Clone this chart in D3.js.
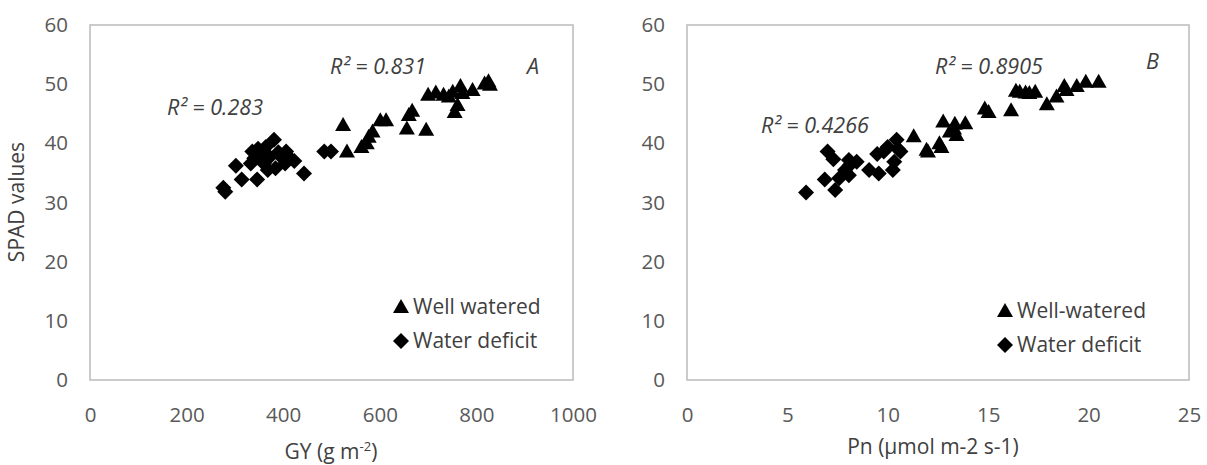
<!DOCTYPE html>
<html>
<head>
<meta charset="utf-8">
<script src="https://cdn.jsdelivr.net/npm/d3@7"></script>
<style>
  body { margin: 0; background: #fff; }
  text { font-family: "Open Sans", "Noto Sans", sans-serif; }
</style>
</head>
<body>
<svg id="svg" width="1207" height="465"></svg>
<script>
// panel A: GY (g m-2) vs SPAD
var wellA = [[524,43.1],[532,38.6],[562,39.4],[573,40.0],[577,41.1],[585,42.0],[601,43.9],[613,43.9],
             [656,42.5],[660,44.8],[667,45.5],[696,42.3],[700,48.2],[716,48.6],[732,48.2],[743,47.9],
             [751,48.7],[755,45.3],[761,46.5],[767,49.7],[771,48.5],[792,49.0],[817,50.1],[825,50.5],[828,49.9]];
var deficitA = [[276,32.5],[280,31.8],[302,36.2],[314,33.9],[333,36.6],[336,38.6],[340,37.5],[346,33.9],
                [348,39.1],[355,38.0],[360,36.6],[364,39.4],[368,35.5],[372,37.7],[381,40.6],[384,35.8],
                [390,38.5],[396,37.7],[404,36.6],[406,38.6],[410,37.8],[423,37.0],[443,34.9],[485,38.6],[499,38.6]];

// panel B: Pn vs SPAD
var wellB = [[11.29,41.2],[11.93,38.9],[12.0,38.6],[12.57,40.0],[12.67,39.4],[12.76,43.7],[13.09,42.0],
             [13.3,42.5],[13.34,43.3],[13.42,41.4],[13.86,43.4],[14.83,45.9],[15.02,45.3],[16.14,45.6],
             [16.38,48.9],[16.57,48.7],[16.86,48.6],[17.05,48.5],[17.34,48.7],[17.92,46.6],[18.4,47.9],
             [18.79,49.7],[18.9,49.0],[19.41,49.7],[19.86,50.4],[20.5,50.4]];
var deficitB = [[5.93,31.7],[6.86,33.9],[7.0,38.6],[7.29,37.3],[7.38,32.1],[7.58,34.1],[7.87,35.5],
                [8.06,34.6],[8.06,37.2],[8.1,36.3],[8.45,36.9],[9.07,35.5],[9.47,38.2],[9.55,34.9],
                [9.8,38.6],[9.99,39.4],[10.25,35.5],[10.32,36.9],[10.44,40.6],[10.5,39.1],[10.63,38.6]];

var yTicks  = [0,10,20,30,40,50,60],
    xTicksA = [0,200,400,600,800,1000],
    xTicksB = [0,5,10,15,20,25];

var svg = d3.select("#svg");
var ink = "#404040", tickInk = "#595959", frame = "#bfbfbf";

var tri = "M0,-8L8,6L-8,6Z",
    dia = "M0,-8L8,0L0,8L-8,0Z";

var panels = [
  {x0:90, x1:573, dom:[0,1000], ticks:xTicksA, well:wellA, def:deficitA, letter:"A", lx:527, ly:67,
   r1:{x:167,y:108,t:"0.283"}, r2:{x:330,y:67,t:"0.831"}, legX:401, legY:307, wellName:"Well watered"},
  {x0:687, x1:1189, dom:[0,25], ticks:xTicksB, well:wellB, def:deficitB, letter:"B", lx:1146, ly:62,
   r1:{x:761,y:126,t:"0.4266"}, r2:{x:935,y:67,t:"0.8905"}, legX:1005, legY:311, wellName:"Well-watered"}
];

panels.forEach(function(p) {
  var x = d3.scaleLinear().domain(p.dom).range([p.x0, p.x1]),
      y = d3.scaleLinear().domain([0,60]).range([380, 25]);
  var g = svg.append("g");

  g.append("rect")
    .attr("x", p.x0).attr("y", 25).attr("width", p.x1-p.x0).attr("height", 355)
    .style("fill", "none").style("stroke", frame).style("stroke-width", "1.6px");

  var ya = g.append("g").attr("transform", "translate("+p.x0+",0)")
    .call(d3.axisLeft(y).tickValues(yTicks).tickSize(0).tickPadding(22));
  var xa = g.append("g").attr("transform", "translate(0,380)")
    .call(d3.axisBottom(x).tickValues(p.ticks).tickSize(0).tickPadding(27).tickFormat(d3.format("d")));
  [ya, xa].forEach(function(a) {
    a.select(".domain").remove();
    a.selectAll("text").attr("font-size", 20.5).attr("fill", tickInk)
      .attr("font-family", "'Open Sans', sans-serif");
  });

  g.selectAll(".w").data(p.well).enter().append("path")
    .attr("d", tri).attr("fill", "#000")
    .attr("transform", function(d){ return "translate("+x(d[0])+","+y(d[1])+")"; });
  g.selectAll(".d").data(p.def).enter().append("path")
    .attr("d", dia).attr("fill", "#000")
    .attr("transform", function(d){ return "translate("+x(d[0])+","+y(d[1])+")"; });

  [p.r1, p.r2].forEach(function(r) {
    g.append("text").attr("x", r.x).attr("y", r.y+7)
      .attr("font-size", 21.5).attr("font-style", "italic").attr("fill", ink)
      .text("R² = " + r.t);
  });
  g.append("text").attr("x", p.lx).attr("y", p.ly+7).attr("font-size", 21.5)
    .attr("font-style", "italic").attr("fill", ink).text(p.letter);

  // legend
  g.append("path").attr("d", tri).attr("transform", "translate("+p.legX+","+p.legY+")");
  g.append("path").attr("d", dia).attr("transform", "translate("+p.legX+","+(p.legY+34)+")");
  g.append("text").attr("x", p.legX+12).attr("y", p.legY+7).attr("font-size", 21).attr("fill", ink).text(p.wellName);
  g.append("text").attr("x", p.legX+12).attr("y", p.legY+41).attr("font-size", 21).attr("fill", ink).text("Water deficit");
});

// axis titles
var gy = svg.append("text").attr("x", 331).attr("y", 459).attr("text-anchor", "middle")
  .attr("font-size", 21).attr("fill", ink);
gy.append("tspan").text("GY (g m");
gy.append("tspan").attr("font-size", 13).attr("dy", -8).text("-2");
gy.append("tspan").attr("dy", 8).text(")");

svg.append("text").attr("x", 933).attr("y", 454).attr("text-anchor", "middle")
  .attr("font-size", 21).attr("fill", ink).text("Pn (µmol m-2 s-1)");

svg.append("text").attr("transform", "translate(24,202) rotate(-90)").attr("text-anchor", "middle")
  .attr("font-size", 21).attr("fill", ink).text("SPAD values");
</script>
</body>
</html>
